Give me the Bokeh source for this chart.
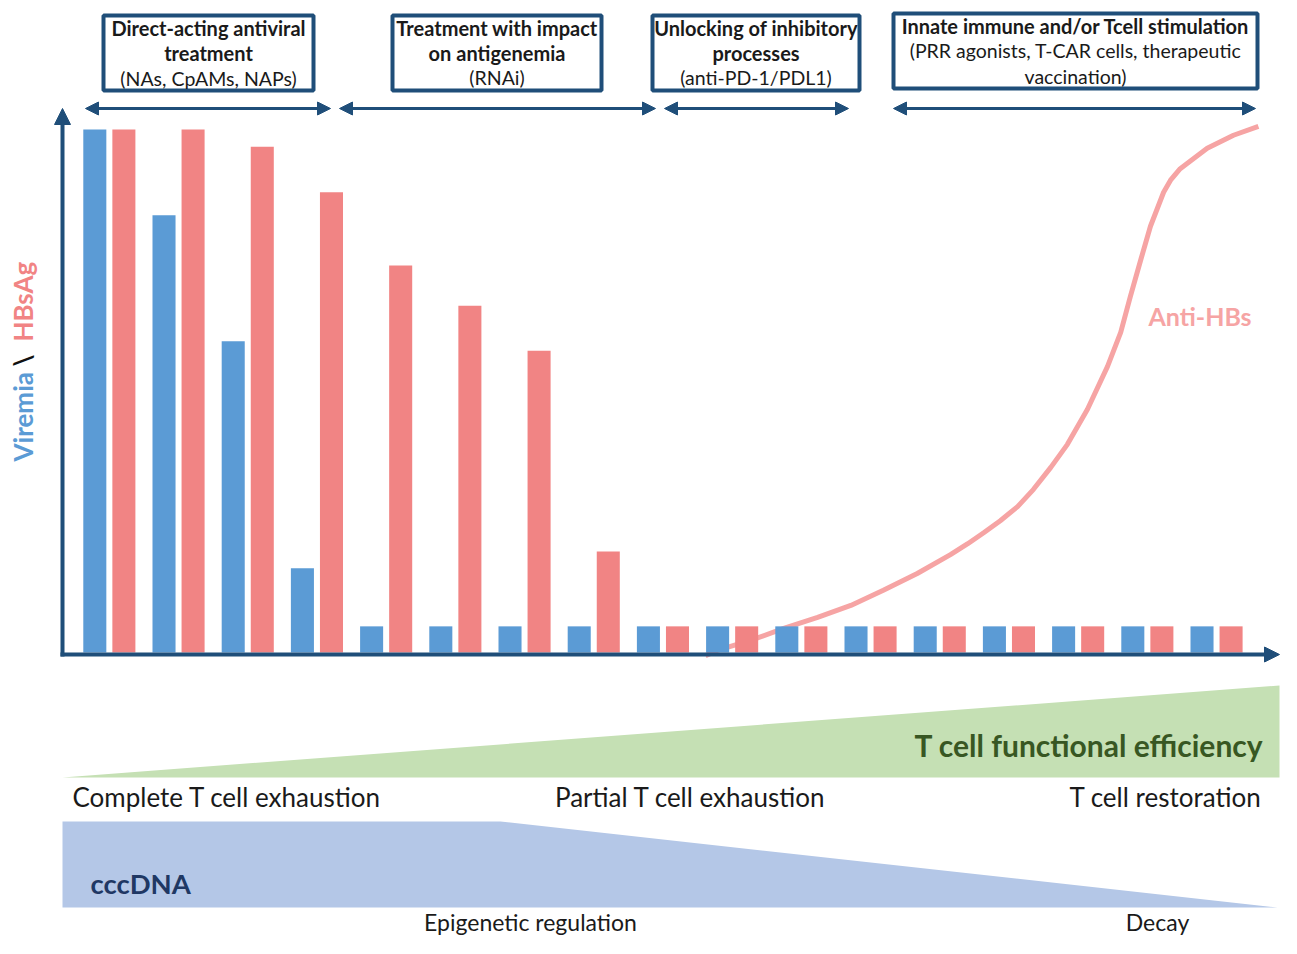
from math import pi
from bokeh.plotting import figure
from bokeh.models import Range1d, Arrow, NormalHead, ColumnDataSource
from bokeh.core.properties import value
from bokeh.transform import dodge
from bokeh.embed import file_html
from bokeh.resources import INLINE

# ---------------- data ----------------
stages = list(range(1, 18))
viremia = [100, 83.6, 59.5, 16.1, 5, 5, 5, 5, 5, 5, 5, 5, 5, 5, 5, 5, 5]
hbsag = [100, 100, 96.7, 88.0, 74.0, 66.3, 57.7, 19.3, 5, 5, 5, 5, 5, 5, 5, 5, 5]

anti_hbs_t = [9.62, 9.79, 10.27, 10.75, 11.24, 11.72, 12.19, 12.68, 13.16, 13.41,
              13.64, 13.88, 14.13, 14.36, 14.61, 14.85, 15.14, 15.43, 15.62, 15.76,
              15.91, 16.05, 16.24, 16.34, 16.48, 16.87, 17.25, 17.61]
anti_hbs_v = [-0.6, 0.4, 2.3, 4.6, 6.7, 9.0, 11.9, 15.1, 18.7, 20.8,
              22.9, 25.2, 27.9, 31.2, 35.4, 39.8, 46.5, 54.7, 61.2, 68.1,
              75.1, 81.5, 88.0, 90.3, 92.5, 96.4, 98.9, 100.6]

treatments = [
    (["Direct-acting antiviral", "treatment"], ["(NAs, CpAMs, NAPs)"]),
    (["Treatment with impact", "on antigenemia"], ["(RNAi)"]),
    (["Unlocking of inhibitory", "processes"], ["(anti-PD-1/PDL1)"]),
    (["Innate immune and/or Tcell stimulation"], ["(PRR agonists, T-CAR cells, therapeutic", "vaccination)"]),
]

# ---------------- colours ----------------
NAVY = "#1F4E79"
BLUE = "#5B9BD5"
RED = "#F18484"
PINK = "#F6A4A4"
GREEN_FILL = "#C5E0B4"
GREEN_TXT = "#385723"
BLUE_FILL = "#B4C7E7"
CCC_TXT = "#1F3864"
TXT = "#1A1A1A"
FONT = "Lato"

W, H = 1281, 938
p = figure(width=W, height=H, x_range=Range1d(0, W), y_range=Range1d(H, 0),
           output_backend="svg", toolbar_location=None, min_border=0,
           x_axis_location=None, y_axis_location=None, outline_line_color=None)
p.grid.visible = False

# data ranges for the bar chart (stage index / value 0-100)
BASE_PX, PX_PER_100 = 652.0, 523.0
STEP_PX, FIRST_PX = 69.2, 108.5
xs0 = 1 - FIRST_PX / STEP_PX
p.extra_x_ranges = {"t": Range1d(xs0, xs0 + W / STEP_PX)}
vb = -(H - BASE_PX) / PX_PER_100 * 100
vt = BASE_PX / PX_PER_100 * 100
p.extra_y_ranges = {"v": Range1d(vb, vt)}


def txt(x, y, s, size, color=TXT, bold=False, align="center", angle=0.0):
    p.text(x=[x], y=[y], text=[s], text_font=value(FONT), text_font_size=value(f"{size}px"),
           text_font_style="bold" if bold else "normal", text_color=color,
           text_align=align, text_baseline="middle", angle=angle)


# ---------------- lower shapes ----------------
p.patch([62, 1279, 1279], [777, 685, 777], fill_color=GREEN_FILL, line_color=None)
p.patch([62, 500, 1277, 62], [821, 821, 907, 907], fill_color=BLUE_FILL, line_color=None)

txt(1263, 744, "T cell functional efficiency", 30, GREEN_TXT, True, "right")
txt(72, 796, "Complete T cell exhaustion", 26, align="left")
txt(690, 796, "Partial T cell exhaustion", 26)
txt(1261, 796, "T cell restoration", 26, align="right")
txt(90, 883, "cccDNA", 27.5, CCC_TXT, True, "left")
txt(530, 921, "Epigenetic regulation", 23)
txt(1157, 921, "Decay", 23)

# ---------------- curve + bars ----------------
p.line(anti_hbs_t, anti_hbs_v, x_range_name="t", y_range_name="v",
       line_color=PINK, line_width=5, line_join="round")

cds = ColumnDataSource(dict(stage=stages, viremia=viremia, hbsag=hbsag))
p.vbar(x=dodge("stage", -0.205), top="viremia", bottom=0, width=0.333, source=cds,
       x_range_name="t", y_range_name="v", fill_color=BLUE, line_color=None)
p.vbar(x=dodge("stage", 0.215), top="hbsag", bottom=0, width=0.333, source=cds,
       x_range_name="t", y_range_name="v", fill_color=RED, line_color=None)

txt(1148, 315, "Anti-HBs", 25, PINK, True, "left")

# ---------------- axes (arrows) ----------------
def head(sz):
    return NormalHead(size=sz, fill_color=NAVY, line_color=NAVY, line_width=1)

p.add_layout(Arrow(end=head(16), x_start=62, y_start=656, x_end=62, y_end=108,
                   line_color=NAVY, line_width=4))
p.add_layout(Arrow(end=head(15), x_start=60, y_start=654, x_end=1279, y_end=654,
                   line_color=NAVY, line_width=4))

# y label
txt(22, 461, "Viremia", 26, BLUE, True, "left", pi / 2)
txt(22, 366, "\\", 26, "#111111", True, "left", pi / 2)
txt(22, 341, "HBsAg", 26, RED, True, "left", pi / 2)

# ---------------- treatment boxes ----------------
boxes = [(103, 313, 15, 90), (392, 601, 15, 90), (652, 859, 15, 90), (893, 1257, 13, 88)]
for (l, r, t, b) in boxes:
    p.quad(left=[l], right=[r], top=[t], bottom=[b], fill_color=None,
           line_color=NAVY, line_width=4)

line_ys = [[27, 52, 78], [27, 52, 77], [27, 52, 77], [25, 50, 76]]
for (bold_lines, norm_lines), (l, r, t, b), ys in zip(treatments, boxes, line_ys):
    cx = (l + r) / 2
    i = 0
    for s in bold_lines:
        txt(cx, ys[i], s, 20, TXT, True)
        i += 1
    for s in norm_lines:
        txt(cx, ys[i], s, 19.5, TXT, False)
        i += 1

arrows = [(83, 332), (337, 657), (662, 850), (891, 1257)]
for (a, b) in arrows:
    p.add_layout(Arrow(start=head(13), end=head(13), x_start=a + 2, y_start=108,
                       x_end=b - 2, y_end=108, line_color=NAVY, line_width=3))

open("out.html", "w").write(file_html(p, INLINE))
